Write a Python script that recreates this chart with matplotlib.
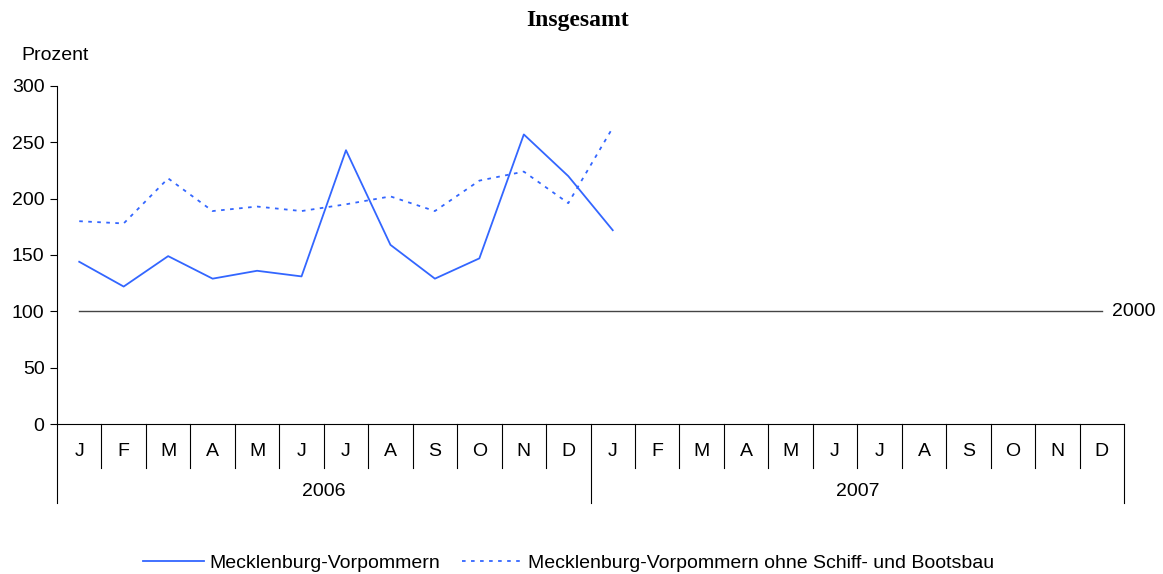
import matplotlib
matplotlib.use('Agg')
import matplotlib.pyplot as plt
import matplotlib.transforms as mtransforms

plt.rcParams['font.family'] = ['Liberation Sans', 'DejaVu Sans']

# data
monate = ['J', 'F', 'M', 'A', 'M', 'J', 'J', 'A', 'S', 'O', 'N', 'D']
jahre = ['2006', '2007']
mv = [144, 122, 149, 129, 136, 131, 243, 159, 129, 147, 257, 220, 172]
mv_ohne = [180, 178, 218, 189, 193, 189, 195, 202, 189, 216, 224, 196, 263]
basis = 100

kategorien = monate * len(jahre)
n = len(kategorien)
fs = 14

fig = plt.figure(figsize=(11.63, 5.74), dpi=100)
ax = fig.add_axes([0.049, 0.2613, 0.9175, 0.5889])

blau = '#3366ff'
x1 = list(range(len(mv)))
x2 = list(range(len(mv_ohne)))
l1, = ax.plot(x1, mv, color=blau, lw=1.3, label='Mecklenburg-Vorpommern')
l2, = ax.plot(x2, mv_ohne, color=blau, lw=1.3, linestyle=(0, (2, 3)),
              label='Mecklenburg-Vorpommern ohne Schiff- und Bootsbau')

# Basislinie 2000 = 100
ax.plot([0, n - 1], [basis, basis], color='#444444', lw=1.0, zorder=1)
ax.annotate('2000', xy=(n - 1, basis), xytext=(7, 0), textcoords='offset points',
            va='center', ha='left', fontsize=fs)

ax.set_xlim(-0.5, n - 0.5)
ax.set_ylim(0, 300)
ax.set_yticks(range(0, 301, 50))
ax.tick_params(axis='y', direction='out', length=5, width=0.8, pad=4, labelsize=fs)
ax.set_xticks([])
for s in ['top', 'right']:
    ax.spines[s].set_visible(False)
ax.spines['left'].set_linewidth(0.8)
ax.spines['bottom'].set_linewidth(0.8)

# Kategorieachse mit Monaten und Jahren
trans = mtransforms.blended_transform_factory(ax.transData, ax.transAxes)
for i, m in enumerate(kategorien):
    ax.text(i, -0.082, m, transform=trans, ha='center', va='center', fontsize=fs)
for k in range(n + 1):
    unten = -0.234 if k % 12 == 0 else -0.13
    ax.plot([k - 0.5, k - 0.5], [0, unten], transform=trans, color='black',
            lw=0.8, clip_on=False)
for j, jahr in enumerate(jahre):
    ax.text(j * 12 + 5.5, -0.2, jahr, transform=trans, ha='center', va='center',
            fontsize=fs)

fig.text(0.497, 0.964, 'Insgesamt', ha='center', va='center', fontsize=17,
         fontweight='bold', family='Liberation Serif')
fig.text(0.047, 0.904, 'Prozent', ha='center', va='center', fontsize=fs)

fig.legend(handles=[l1, l2], loc='center', bbox_to_anchor=(0.489, 0.019),
           ncol=2, frameon=False, fontsize=fs, handlelength=3.1,
           columnspacing=1.1, handletextpad=0.3)

fig.savefig('out.png', dpi=100)
